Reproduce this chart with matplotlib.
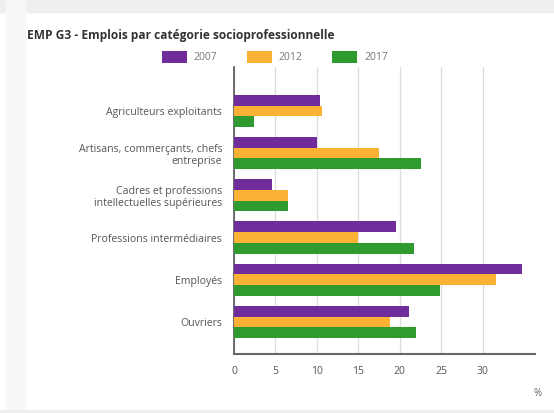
import matplotlib
matplotlib.use("Agg")
import matplotlib.pyplot as plt
import numpy as np
from matplotlib.patches import Rectangle

# Données (en %)
categories = [
    "Agriculteurs exploitants",
    "Artisans, commerçants, chefs\nentreprise",
    "Cadres et professions\nintellectuelles supérieures",
    "Professions intermédiaires",
    "Employés",
    "Ouvriers",
]
years = ["2007", "2012", "2017"]
v2007 = [10.4, 10.0, 4.6, 19.5, 34.7, 21.1]
v2012 = [10.6, 17.5, 6.5, 14.9, 31.6, 18.8]
v2017 = [2.4, 22.6, 6.5, 21.7, 24.9, 22.0]
xticks = [0, 5, 10, 15, 20, 25, 30]

colors = ["#6f2c9a", "#fbb234", "#2f9a30"]

plt.rcParams["font.family"] = ["Open Sans", "DejaVu Sans"]

fig = plt.figure(figsize=(5.54, 4.13), dpi=100, facecolor="white")

# fond gris du cadre
fig.patches.append(Rectangle((0, 1 - 12 / 413), 1, 12 / 413, transform=fig.transFigure,
                             color="#efefef", zorder=0))
fig.patches.append(Rectangle((6 / 554, 0), 19 / 554, 1, transform=fig.transFigure,
                             color="#f7f7f7", zorder=0))
fig.patches.append(Rectangle((0, 0), 1, 3 / 413, transform=fig.transFigure,
                             color="#efefef", zorder=0))

ax = fig.add_axes([234 / 554, 1 - 354 / 413, 301 / 554, 287 / 413])

y = np.arange(len(categories))
h = 0.253
series = [v2007, v2012, v2017]
for i, vals in enumerate(series):
    ax.barh(y + (i - 1) * h, vals, height=h, color=colors[i], label=years[i], zorder=3)

ax.set_xlim(0, 36.3)
ax.set_ylim(5.76, -1.04)
ax.set_xticks(xticks)
ax.set_xticklabels([str(t) for t in xticks])
ax.set_yticks(y)
ax.set_yticklabels(categories, fontsize=7.6, color="#555555", ha="right",
                   multialignment="right")
ax.tick_params(axis="x", length=0, pad=9, labelsize=7.5, labelcolor="#555555")
ax.tick_params(axis="y", length=0, pad=8.5)

ax.grid(axis="x", color="#dddddd", linewidth=0.9, zorder=0)
ax.grid(axis="y", visible=False)
for s in ["top", "right"]:
    ax.spines[s].set_visible(False)
ax.spines["left"].set_color("#555555")
ax.spines["left"].set_linewidth(1.2)
ax.spines["bottom"].set_color("#666666")
ax.spines["bottom"].set_linewidth(1.5)

fig.text(27 / 554, 1 - 35 / 413, "EMP G3 - Emplois par catégorie socioprofessionnelle",
         fontsize=8.6, fontweight="bold", color="#333333", va="center", ha="left")

fig.legend(loc="center", bbox_to_anchor=(0.496, 1 - 57 / 413), ncol=3, frameon=False,
           fontsize=7.5, handlelength=2.4, handleheight=1.4, handletextpad=0.7,
           columnspacing=2.8, labelcolor="#777777")

fig.text(538 / 554, 1 - 393 / 413, "%", fontsize=7, color="#666666", ha="center", va="center")

fig.savefig("out.png", dpi=100, facecolor=fig.get_facecolor())
